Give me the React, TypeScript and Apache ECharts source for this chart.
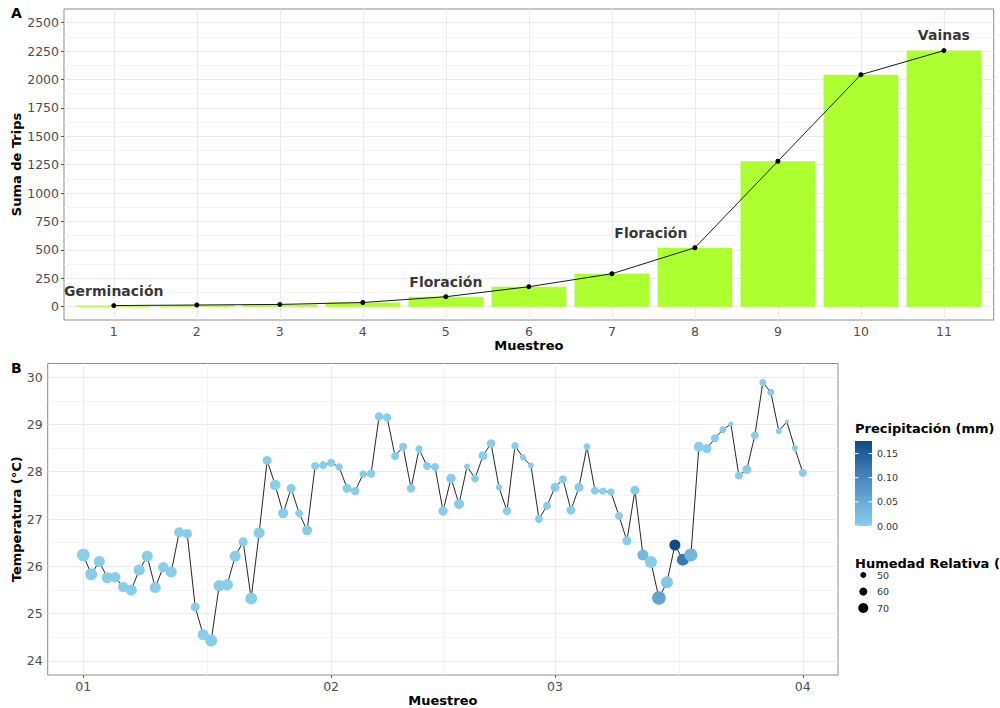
import React, { useEffect, useRef } from 'react';
import * as echarts from 'echarts';

// ---------- Panel A data ----------
const muestreo = [1, 2, 3, 4, 5, 6, 7, 8, 9, 10, 11];
const sumaTrips = [10, 15, 20, 37, 88, 176, 290, 519, 1280, 2042, 2254];
const etapaNombres = ['Germinación', 'Floración', 'Floración', 'Vainas'];
const etapaX = [1, 5, 7.47, 11];
const etapaY = [141, 220, 651, 2392];
const yTicksA = [0, 250, 500, 750, 1000, 1250, 1500, 1750, 2000, 2250, 2500];
const yMinorA = [125, 375, 625, 875, 1125, 1375, 1625, 1875, 2125, 2375];

// ---------- Panel B data (daily, day 0 = 1 Jan) ----------
const monthStarts = [0, 31, 59, 90];
const monthLabels = ['01', '02', '03', '04'];
const monthMids = [15.5, 45, 74.5];
const yTicksB = [24, 25, 26, 27, 28, 29, 30];
const yMinorB = [24.5, 25.5, 26.5, 27.5, 28.5, 29.5];

const tempEne = [26.24, 25.83, 26.10, 25.76, 25.77, 25.56, 25.50, 25.92, 26.21, 25.55, 25.98, 25.88, 26.72, 26.69, 25.14, 24.55, 24.43, 25.59, 25.61, 26.21, 26.52, 25.32, 26.71, 28.24, 27.72, 27.12, 27.65, 27.12, 26.76, 28.12, 28.14];
const tempFeb = [28.19, 28.10, 27.65, 27.59, 27.95, 27.96, 29.17, 29.15, 28.33, 28.53, 27.65, 28.48, 28.12, 28.10, 27.17, 27.86, 27.32, 28.11, 27.86, 28.34, 28.60, 27.67, 27.17, 28.55, 28.30, 28.13, 27.00, 27.28];
const tempMar = [27.67, 27.84, 27.19, 27.67, 28.53, 27.60, 27.59, 27.57, 27.07, 26.54, 27.61, 26.24, 26.09, 25.33, 25.66, 26.45, 26.14, 26.24, 28.53, 28.49, 28.71, 28.89, 29.01, 27.92, 28.05, 28.77, 29.89, 29.68, 28.86, 29.06, 28.50];
const tempAbr = [27.98];

const humEne = [83, 80, 75, 75, 72, 72, 75, 75, 75, 75, 72, 75, 70, 67, 65, 75, 80, 77, 77, 75, 65, 80, 75, 65, 73, 70, 65, 60, 70, 60, 60];
const humFeb = [60, 57, 65, 62, 57, 62, 62, 62, 60, 60, 62, 57, 60, 60, 67, 67, 70, 50, 60, 65, 62, 52, 62, 57, 52, 50, 60, 60];
const humMar = [65, 60, 65, 65, 55, 60, 57, 57, 60, 65, 65, 75, 80, 88, 80, 75, 80, 85, 70, 65, 60, 55, 45, 60, 65, 60, 55, 55, 50, 40, 50];
const humAbr = [60];

const precEne = [0, 0, 0, 0, 0, 0, 0, 0, 0, 0, 0, 0, 0, 0, 0, 0, 0, 0, 0, 0, 0, 0, 0, 0, 0, 0, 0, 0, 0, 0, 0];
const precFeb = [0, 0, 0, 0, 0, 0, 0, 0, 0, 0, 0, 0, 0, 0, 0, 0, 0, 0, 0, 0, 0, 0, 0, 0, 0, 0, 0, 0];
const precMar = [0, 0, 0, 0, 0, 0, 0, 0, 0, 0, 0, 0.03, 0, 0.06, 0.01, 0.176, 0.12, 0.035, 0, 0, 0, 0, 0, 0, 0, 0, 0, 0, 0, 0, 0];
const precAbr = [0];

const precTicks = [0, 0.05, 0.1, 0.15];
const humLegend = [50, 60, 70];

const temperatura = [...tempEne, ...tempFeb, ...tempMar, ...tempAbr];
const humedad = [...humEne, ...humFeb, ...humMar, ...humAbr];
const precipitacion = [...precEne, ...precFeb, ...precMar, ...precAbr];

const FONT = 'DejaVu Sans';
const PREC_MAX = 0.176;
const HUM_MIN = 40;
const HUM_MAX = 90;
const SIZE_RANGE = [4, 14];
const COLOR_STOPS = ['#87CEEB', '#62A6D4', '#3A79B4', '#0D4A8A'];
const BAR_FRACTION = 0.9;

const sizeFor = (h: number) => SIZE_RANGE[0] + ((h - HUM_MIN) / (HUM_MAX - HUM_MIN)) * (SIZE_RANGE[1] - SIZE_RANGE[0]);

// layout
const gA = { left: 64, top: 9, width: 929.7, height: 311 };
const gB = { left: 47.7, top: 363.5, width: 790.3, height: 311.5 };
const xA = [0.4, 11.6];
const yA = [-117, 2620];
const xB = [-4.45, 94.4];
const yB = [23.7, 30.29];

const MAJOR = '#EBEBEB';
const MINOR = '#F4F4F4';

export default function App() {
  const ref = useRef<HTMLDivElement>(null);
  useEffect(() => {
    if (!ref.current) return;
    const chart = echarts.init(ref.current, undefined, { renderer: 'svg' });

    const axisLabelStyle = { color: '#4D4D4D', fontSize: 12.5, fontFamily: FONT, margin: 5 };
    const nameStyle = { color: '#000', fontSize: 13, fontWeight: 'bold' as const, fontFamily: FONT };
    const tickStyle = { show: true, length: 3, lineStyle: { color: '#555', width: 1 } };

    const gridLines = (xs: number[], ys: number[], xsMinor: number[], ysMinor: number[]) => [
      ...ysMinor.map((v) => ({ yAxis: v, lineStyle: { color: MINOR, width: 1, type: 'solid' } })),
      ...xsMinor.map((v) => ({ xAxis: v, lineStyle: { color: MINOR, width: 1, type: 'solid' } })),
      ...ys.map((v) => ({ yAxis: v, lineStyle: { color: MAJOR, width: 1, type: 'solid' } })),
      ...xs.map((v) => ({ xAxis: v, lineStyle: { color: MAJOR, width: 1, type: 'solid' } })),
    ];

    // Legend geometry
    const legX = 855;
    const cbTop = 441;
    const cbH = 85;
    const cbW = 17;
    const precToY = (v: number) => cbTop + cbH - (v / PREC_MAX) * cbH;
    const humRows = [575, 591.5, 608];

    const gradStops = COLOR_STOPS.map((c, i) => ({ offset: i / (COLOR_STOPS.length - 1), color: c }));

    const legendGraphics: any[] = [
      { type: 'text', left: 11, top: 6, style: { text: 'A', font: `bold 14px "${FONT}"`, fill: '#000' } },
      { type: 'text', left: 11, top: 361, style: { text: 'B', font: `bold 14px "${FONT}"`, fill: '#000' } },
      {
        type: 'text', x: legX, y: 428,
        style: { text: 'Precipitación (mm)', font: `bold 13px "${FONT}"`, fill: '#000', verticalAlign: 'middle' },
      },
      {
        type: 'rect', shape: { x: legX, y: cbTop, width: cbW, height: cbH },
        style: { fill: new echarts.graphic.LinearGradient(0, 1, 0, 0, gradStops) },
      },
      ...precTicks.flatMap((v) => [
        { type: 'line', shape: { x1: legX, y1: precToY(v), x2: legX + 3.4, y2: precToY(v) }, style: { stroke: '#fff', lineWidth: 1 } },
        { type: 'line', shape: { x1: legX + cbW - 3.4, y1: precToY(v), x2: legX + cbW, y2: precToY(v) }, style: { stroke: '#fff', lineWidth: 1 } },
        {
          type: 'text', x: legX + 22, y: precToY(v),
          style: { text: v.toFixed(2), font: `9.5px "${FONT}"`, fill: '#333', verticalAlign: 'middle' },
        },
      ]),
      {
        type: 'text', x: legX, y: 563,
        style: { text: 'Humedad Relativa (%)', font: `bold 13px "${FONT}"`, fill: '#000', verticalAlign: 'middle' },
      },
      ...humLegend.flatMap((h, i) => [
        { type: 'circle', shape: { cx: legX + 8.3, cy: humRows[i], r: sizeFor(h) / 2 }, style: { fill: '#000' } },
        {
          type: 'text', x: legX + 22, y: humRows[i],
          style: { text: String(h), font: `9.5px "${FONT}"`, fill: '#333', verticalAlign: 'middle' },
        },
      ]),
    ];

    const gridCommon = { show: true, borderColor: '#8C8C8C', borderWidth: 1, backgroundColor: '#fff', containLabel: false, outerBoundsMode: 'none' };

    chart.setOption({
      animation: false,
      textStyle: { fontFamily: FONT },
      grid: [
        { ...gA, ...gridCommon },
        { ...gB, ...gridCommon },
      ],
      xAxis: [
        {
          gridIndex: 0, type: 'value', min: xA[0], max: xA[1],
          axisLine: { show: false }, axisTick: { ...tickStyle, customValues: muestreo },
          axisLabel: { ...axisLabelStyle, customValues: muestreo, formatter: (v: number) => String(v) },
          splitLine: { show: false },
          name: 'Muestreo', nameLocation: 'middle', nameGap: 19, nameMoveOverlap: false, nameTextStyle: nameStyle,
        },
        {
          gridIndex: 1, type: 'value', min: xB[0], max: xB[1],
          axisLine: { show: false }, axisTick: { ...tickStyle, customValues: monthStarts },
          axisLabel: {
            ...axisLabelStyle, customValues: monthStarts,
            formatter: (v: number) => monthLabels[monthStarts.indexOf(v)] ?? '',
          },
          splitLine: { show: false },
          name: 'Muestreo', nameLocation: 'middle', nameGap: 19, nameMoveOverlap: false, nameTextStyle: nameStyle,
        },
      ],
      yAxis: [
        {
          gridIndex: 0, type: 'value', min: yA[0], max: yA[1],
          axisLine: { show: false }, axisTick: { ...tickStyle, customValues: yTicksA },
          axisLabel: { ...axisLabelStyle, customValues: yTicksA, formatter: (v: number) => String(v) },
          splitLine: { show: false },
          name: 'Suma de Trips', nameLocation: 'middle', nameGap: 41, nameMoveOverlap: false, nameTextStyle: nameStyle,
        },
        {
          gridIndex: 1, type: 'value', min: yB[0], max: yB[1],
          axisLine: { show: false }, axisTick: { ...tickStyle, customValues: yTicksB },
          axisLabel: { ...axisLabelStyle, customValues: yTicksB, formatter: (v: number) => String(v) },
          splitLine: { show: false },
          name: 'Temperatura (°C)', nameLocation: 'middle', nameGap: 24.5, nameMoveOverlap: false, nameTextStyle: nameStyle,
        },
      ],
      visualMap: [
        {
          type: 'continuous', show: false, seriesIndex: 6, dimension: 2,
          min: 0, max: PREC_MAX, inRange: { color: COLOR_STOPS },
        },
        {
          type: 'continuous', show: false, seriesIndex: 6, dimension: 3,
          min: HUM_MIN, max: HUM_MAX, inRange: { symbolSize: SIZE_RANGE },
        },
      ],
      series: [
        {
          type: 'line', xAxisIndex: 0, yAxisIndex: 0, z: 0, silent: true,
          data: [[xA[0], yA[0]]], showSymbol: false, lineStyle: { opacity: 0 },
          markLine: {
            z: 1, silent: true, symbol: ['none', 'none'], label: { show: false }, animation: false,
            data: gridLines(muestreo, yTicksA, [], yMinorA),
          },
        },
        {
          type: 'custom', xAxisIndex: 0, yAxisIndex: 0, z: 2,
          data: muestreo.map((m, i) => [m, sumaTrips[i]]),
          renderItem: (_params: any, api: any) => {
            const x = api.value(0);
            const y = api.value(1);
            const p0 = api.coord([x - BAR_FRACTION / 2, 0]);
            const p1 = api.coord([x + BAR_FRACTION / 2, y]);
            return {
              type: 'rect',
              shape: { x: p0[0], y: p1[1], width: p1[0] - p0[0], height: p0[1] - p1[1] },
              style: { fill: '#ADFF2F' },
            };
          },
        },
        {
          type: 'line', xAxisIndex: 0, yAxisIndex: 0, z: 3,
          data: muestreo.map((m, i) => [m, sumaTrips[i]]),
          symbol: 'circle', symbolSize: 5, showSymbol: true,
          lineStyle: { color: '#1a1a1a', width: 1 }, itemStyle: { color: '#000' },
        },
        {
          type: 'scatter', xAxisIndex: 0, yAxisIndex: 0, z: 4,
          data: etapaX.map((x, i) => ({ value: [x, etapaY[i]], name: etapaNombres[i] })),
          symbolSize: 0, itemStyle: { color: '#000' },
          label: {
            show: true, position: 'inside', formatter: '{b}', fontWeight: 'bold', fontSize: 14,
            color: '#000', textBorderWidth: 0, fontFamily: FONT,
          },
        },
        {
          type: 'line', xAxisIndex: 1, yAxisIndex: 1, z: 0, silent: true,
          data: [[xB[0], yB[0]]], showSymbol: false, lineStyle: { opacity: 0 },
          markLine: {
            z: 1, silent: true, symbol: ['none', 'none'], label: { show: false }, animation: false,
            data: gridLines(monthStarts, yTicksB, monthMids, yMinorB),
          },
        },
        {
          type: 'line', xAxisIndex: 1, yAxisIndex: 1, z: 3,
          data: temperatura.map((t, i) => [i, t]),
          showSymbol: false, lineStyle: { color: '#262626', width: 1 },
        },
        {
          type: 'scatter', xAxisIndex: 1, yAxisIndex: 1, z: 4,
          data: temperatura.map((t, i) => [i, t, precipitacion[i], humedad[i]]),
          itemStyle: { opacity: 1 },
        },
      ],
      graphic: legendGraphics,
    });

    return () => chart.dispose();
  }, []);

  return <div ref={ref} style={{ position: 'absolute', left: 0, top: 0, width: 1000, height: 708 }} />;
}
